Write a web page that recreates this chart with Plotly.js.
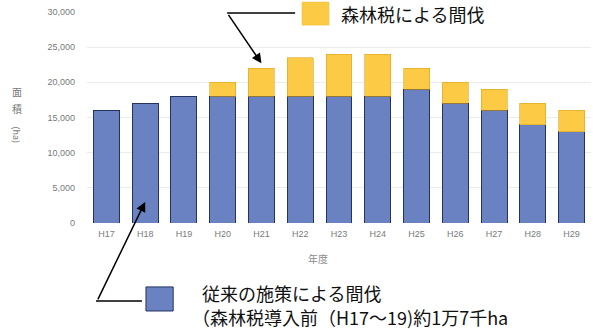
<!DOCTYPE html>
<html>
<head>
<meta charset="utf-8">
<script src="https://cdn.plot.ly/plotly-3.0.1.min.js"></script>
<style>
  html, body { margin: 0; padding: 0; background: #fff; }
  #chart { width: 593px; height: 329px; }
</style>
</head>
<body>
<div id="chart"></div>
<script>
// Fiscal years (Heisei era)
const years = ['H17', 'H18', 'H19', 'H20', 'H21', 'H22', 'H23', 'H24', 'H25', 'H26', 'H27', 'H28', 'H29'];
// Thinning under conventional measures (ha)
const conventional = [16000, 17000, 18000, 18000, 18000, 18000, 18000, 18000, 19000, 17000, 16000, 14000, 13000];
// Thinning funded by the forest tax (ha); none before H20
const forestTax = [0, 0, 0, 2000, 4000, 5500, 6000, 6000, 3000, 3000, 3000, 3000, 3000];
const yTicks = [0, 5000, 10000, 15000, 20000, 25000, 30000];

const jp = '"Noto Sans CJK JP", "Noto Sans", sans-serif';
const tickFont = { family: '"Liberation Sans", Arial, sans-serif', size: 9, color: '#7a7a7a' };

const traces = [
  {
    type: 'bar', x: years, y: conventional, name: '従来の施策による間伐',
    marker: { color: '#6b82c2', line: { color: '#26325f', width: 1 } },
    hoverinfo: 'skip'
  },
  {
    // empty years are left out so no outline is drawn for them
    type: 'bar', x: years, y: forestTax.map(v => (v > 0 ? v : null)), name: '森林税による間伐',
    marker: { color: '#fcca45', line: { color: '#d9a520', width: 0.6 } },
    hoverinfo: 'skip'
  }
];

const layout = {
  width: 593, height: 329,
  margin: { l: 87, r: 2, t: 12, b: 106 },
  paper_bgcolor: '#ffffff', plot_bgcolor: '#ffffff',
  barmode: 'stack', bargap: 0.33,
  showlegend: false,
  xaxis: {
    type: 'category', showgrid: false, zeroline: false, showline: false,
    ticks: '', tickfont: tickFont, ticklabelstandoff: 4
  },
  yaxis: {
    range: [0, 30000], tickvals: yTicks, tickformat: ',d',
    showgrid: true, gridcolor: '#ececec', gridwidth: 1,
    zeroline: false, showline: false, ticks: '',
    tickfont: tickFont, ticklabelstandoff: 11
  },
  shapes: [
    // leader line for the forest-tax callout
    { type: 'line', xref: 'paper', yref: 'paper', x0: 0.278, x1: 0.413, y0: 0.995, y1: 0.995,
      line: { color: '#000', width: 1.5 } },
    // forest-tax key swatch
    { type: 'rect', xref: 'paper', yref: 'paper', x0: 0.4266, x1: 0.480, y0: 0.938, y1: 1.047,
      fillcolor: '#fcca45', line: { color: '#f2b620', width: 0.5 } },
    // leader line for the conventional callout
    { type: 'line', xref: 'paper', yref: 'paper', x0: 0.0179, x1: 0.109, y0: -0.3697, y1: -0.3697,
      line: { color: '#000', width: 1.5 } },
    // conventional key swatch
    { type: 'rect', xref: 'paper', yref: 'paper', x0: 0.117, x1: 0.171, y0: -0.417, y1: -0.303,
      fillcolor: '#6b82c2', line: { color: '#26325f', width: 1 } }
  ],
  annotations: [
    { text: '森林税による間伐', xref: 'paper', yref: 'paper', x: 0.500, y: 0.9905,
      xanchor: 'left', yanchor: 'middle', showarrow: false,
      font: { family: jp, size: 18, color: '#111' } },
    { text: '', xref: 'x', yref: 'y', x: 'H21', y: 22700, ax: -34, ay: -50,
      showarrow: true, arrowhead: 2, arrowsize: 1.3, arrowwidth: 1.5, arrowcolor: '#000' },
    { text: '', xref: 'x', yref: 'y', x: 'H18', y: 3000, ax: -48, ay: 99,
      showarrow: true, arrowhead: 2, arrowsize: 1.3, arrowwidth: 1.5, arrowcolor: '#000' },
    { text: '従来の施策による間伐', xref: 'paper', yref: 'paper', x: 0.2245, y: -0.332,
      xanchor: 'left', yanchor: 'middle', showarrow: false,
      font: { family: jp, size: 18, color: '#111' } },
    { text: '（森林税導入前（H17～19)約1万7千ha', xref: 'paper', yref: 'paper', x: 0.205, y: -0.445,
      xanchor: 'left', yanchor: 'middle', showarrow: false,
      font: { family: jp, size: 18, color: '#111' } },
    { text: '年度', xref: 'paper', yref: 'paper', x: 0.458, y: -0.166,
      xanchor: 'center', yanchor: 'middle', showarrow: false,
      font: { family: jp, size: 10, color: '#8a8a8a' } },
    // vertical axis title: stacked kanji with the unit turned sideways
    { text: '面', xref: 'paper', yref: 'paper', x: -0.139, y: 0.623,
      xanchor: 'center', yanchor: 'middle', showarrow: false, borderpad: 0,
      font: { family: jp, size: 10, color: '#7a7a7a' } },
    { text: '積', xref: 'paper', yref: 'paper', x: -0.139, y: 0.543,
      xanchor: 'center', yanchor: 'middle', showarrow: false, borderpad: 0,
      font: { family: jp, size: 10, color: '#7a7a7a' } },
    { text: '(ha)', xref: 'paper', yref: 'paper', x: -0.139, y: 0.415, textangle: 90,
      xanchor: 'center', yanchor: 'middle', showarrow: false, borderpad: 0,
      font: { family: jp, size: 9, color: '#7a7a7a' } }
  ]
};

Plotly.newPlot('chart', traces, layout, { displayModeBar: false, staticPlot: true });
</script>
</body>
</html>
